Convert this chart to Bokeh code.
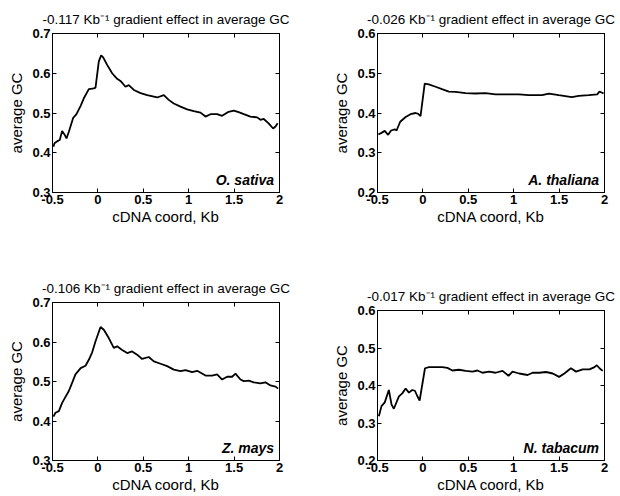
from bokeh.plotting import figure
from bokeh.layouts import column, row
from bokeh.models import Range1d, FixedTicker, LinearAxis, Label, CustomJSTickFormatter, Title
from bokeh.embed import file_html
from bokeh.resources import INLINE

# ---------------- data ----------------
x_ticks = [-0.5, 0, 0.5, 1, 1.5, 2]

os_x = [-0.49, -0.478, -0.44, -0.42, -0.394, -0.368, -0.346, -0.32, -0.272, -0.236,
        -0.19, -0.155, -0.1, -0.045, -0.026, 0.01, 0.036, 0.058, 0.102, 0.157,
        0.212, 0.256, 0.304, 0.34, 0.396, 0.47, 0.543, 0.58, 0.653, 0.726,
        0.78, 0.836, 0.91, 0.983, 1.056, 1.13, 1.185, 1.24, 1.313, 1.368,
        1.44, 1.497, 1.55, 1.607, 1.68, 1.754, 1.79, 1.827, 1.88, 1.93,
        1.956, 1.98]
os_y = [0.415, 0.424, 0.43, 0.432, 0.455, 0.446, 0.436, 0.453, 0.488, 0.497,
        0.518, 0.537, 0.56, 0.562, 0.564, 0.63, 0.645, 0.64, 0.621, 0.6,
        0.586, 0.579, 0.566, 0.57, 0.558, 0.55, 0.545, 0.543, 0.539, 0.545,
        0.533, 0.524, 0.516, 0.509, 0.505, 0.501, 0.491, 0.497, 0.497, 0.493,
        0.503, 0.506, 0.502, 0.497, 0.491, 0.489, 0.483, 0.485, 0.474, 0.461,
        0.466, 0.474]

at_x = [-0.49, -0.456, -0.42, -0.383, -0.35, -0.31, -0.29, -0.25, -0.19, -0.137,
        -0.08, -0.052, -0.026, 0.02, 0.065, 0.14, 0.21, 0.285, 0.36, 0.47,
        0.58, 0.69, 0.8, 0.946, 1.056, 1.166, 1.313, 1.387, 1.497, 1.64,
        1.717, 1.827, 1.92, 1.945, 1.99]
at_y = [0.346, 0.35, 0.355, 0.345, 0.356, 0.359, 0.356, 0.378, 0.39, 0.397,
        0.4, 0.398, 0.392, 0.474, 0.472, 0.466, 0.46, 0.454, 0.453, 0.45,
        0.449, 0.45, 0.447, 0.447, 0.447, 0.445, 0.445, 0.449, 0.445, 0.44,
        0.443, 0.445, 0.447, 0.454, 0.449]

zm_x = [-0.49, -0.467, -0.43, -0.394, -0.357, -0.32, -0.283, -0.247, -0.19, -0.136,
        -0.1, -0.063, -0.026, 0.029, 0.065, 0.12, 0.175, 0.212, 0.267, 0.322,
        0.377, 0.432, 0.487, 0.56, 0.616, 0.69, 0.763, 0.836, 0.91, 0.965,
        1.038, 1.093, 1.185, 1.258, 1.313, 1.368, 1.423, 1.478, 1.515, 1.57,
        1.607, 1.662, 1.717, 1.79, 1.845, 1.9, 1.956, 1.985]
zm_y = [0.411, 0.421, 0.425, 0.446, 0.461, 0.476, 0.497, 0.518, 0.534, 0.54,
        0.555, 0.574, 0.602, 0.638, 0.631, 0.61, 0.585, 0.589, 0.58, 0.572,
        0.576, 0.568, 0.557, 0.562, 0.551, 0.545, 0.539, 0.53, 0.526, 0.529,
        0.524, 0.527, 0.515, 0.515, 0.518, 0.505, 0.512, 0.512, 0.52, 0.505,
        0.501, 0.502, 0.498, 0.495, 0.498, 0.49, 0.487, 0.482]

nt_x = [-0.485, -0.456, -0.42, -0.375, -0.345, -0.32, -0.264, -0.227, -0.19, -0.154,
        -0.117, -0.088, -0.062, -0.036, 0.023, 0.067, 0.14, 0.214, 0.27, 0.325,
        0.398, 0.472, 0.546, 0.6, 0.656, 0.73, 0.8, 0.877, 0.943, 0.987,
        1.06, 1.153, 1.208, 1.282, 1.356, 1.43, 1.5, 1.558, 1.63, 1.687,
        1.76, 1.834, 1.89, 1.915, 1.945, 1.98]
nt_y = [0.318, 0.345, 0.355, 0.388, 0.349, 0.338, 0.371, 0.379, 0.392, 0.381,
        0.388, 0.386, 0.372, 0.36, 0.446, 0.449, 0.449, 0.449, 0.447, 0.44,
        0.442, 0.439, 0.437, 0.44, 0.434, 0.437, 0.434, 0.439, 0.426, 0.437,
        0.432, 0.428, 0.434, 0.434, 0.436, 0.432, 0.423, 0.432, 0.446, 0.437,
        0.443, 0.443, 0.449, 0.454, 0.446, 0.439]

panels = [
    ("-0.117 Kb\u207b\u00b9 gradient effect in average GC", "O. sativa", os_x, os_y, (0.3, 0.7), [0.3, 0.4, 0.5, 0.6, 0.7]),
    ("-0.026 Kb\u207b\u00b9 gradient effect in average GC", "A. thaliana", at_x, at_y, (0.2, 0.6), [0.2, 0.3, 0.4, 0.5, 0.6]),
    ("-0.106 Kb\u207b\u00b9 gradient effect in average GC", "Z. mays", zm_x, zm_y, (0.3, 0.7), [0.3, 0.4, 0.5, 0.6, 0.7]),
    ("-0.017 Kb\u207b\u00b9 gradient effect in average GC", "N. tabacum", nt_x, nt_y, (0.2, 0.6), [0.2, 0.3, 0.4, 0.5, 0.6]),
]

# layout geometry (width, height, border_left, border_right, border_top, border_bottom)
geom = [
    (310, 248, 52, 31, 33, 56),
    (310, 248, 67, 16, 33, 56),
    (310, 248, 52, 31, 54, 36),
    (310, 248, 67, 16, 62, 36),
]

FONT = "Liberation Sans"
fmt = CustomJSTickFormatter(code="return String(Math.round(tick*10)/10);")
blank = CustomJSTickFormatter(code="return '';")

figs = []
for (title, species, xs, ys, yr, yt), (w, h, bl, br, bt, bb) in zip(panels, geom):
    p = figure(width=w, height=h, output_backend="svg", toolbar_location=None,
               x_range=Range1d(-0.5, 2), y_range=Range1d(*yr),
               min_border_left=bl, min_border_right=br,
               min_border_top=bt, min_border_bottom=bb,
               background_fill_color="white", border_fill_color="white")
    p.title = Title(text=title, align="center", text_font=FONT,
                    text_font_size="13.5px", text_font_style="normal",
                    text_color="black", standoff=13)
    p.grid.visible = False
    p.outline_line_color = "black"
    p.outline_line_width = 1

    p.line(xs, ys, line_color="black", line_width=1.8)

    for ax, ticks in ((p.xaxis[0], x_ticks), (p.yaxis[0], yt)):
        ax.ticker = FixedTicker(ticks=ticks)
        ax.formatter = fmt
        ax.major_tick_in = 4
        ax.major_tick_out = 0
        ax.minor_tick_line_color = None
        ax.axis_line_color = "black"
        ax.major_label_text_font = FONT
        ax.major_label_text_font_size = "13px"
        ax.major_label_text_font_style = "bold"
        ax.major_label_text_color = "black"
        ax.axis_label_text_font = FONT
        ax.axis_label_text_font_size = "15px"
        ax.axis_label_text_font_style = "normal"
        ax.axis_label_text_color = "black"
    p.xaxis.axis_label = "cDNA coord, Kb"
    p.yaxis.axis_label = "average GC"
    p.xaxis.major_label_standoff = 2
    p.xaxis.axis_label_standoff = 1
    p.yaxis.major_label_standoff = 2
    p.yaxis.axis_label_standoff = 4

    for loc, ticks in (("above", x_ticks), ("right", yt)):
        a = LinearAxis(ticker=FixedTicker(ticks=ticks), formatter=blank,
                       major_tick_in=4, major_tick_out=0,
                       minor_tick_line_color=None, major_label_standoff=0,
                       axis_line_color="black")
        p.add_layout(a, loc)

    p.add_layout(Label(x=1.94, y=yr[0] + 0.012, text=species, text_align="right",
                       text_baseline="bottom", text_font=FONT, text_font_size="14px",
                       text_font_style="bold italic", text_color="black"))
    figs.append(p)

layout = row(column(figs[0], figs[2]), column(figs[1], figs[3]))

open("out.html", "w").write(file_html(layout, INLINE))
